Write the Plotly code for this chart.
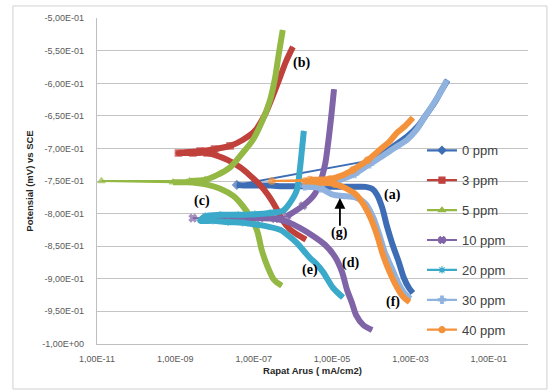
import math
import plotly.graph_objects as go

# Potentiodynamic polarization curves: current density (mA/cm2) and potential (V vs SCE)
# Each series runs from the cathodic end, through the corrosion potential, to the anodic end.

i_0ppm = [1.15e-3, 9.1e-4, 6.8e-4, 5.0e-4, 3.5e-4, 2.5e-4, 1.9e-4, 1.4e-4, 1.05e-4, 7.2e-5,
          3.6e-5, 1.8e-5, 8.9e-6, 4.4e-6, 2.2e-6, 1.1e-6, 5.4e-7, 2.7e-7, 1.3e-7, 7.1e-8, 3.7e-8,
          1.05e-4, 2.2e-4, 4.5e-4, 8.5e-4, 1.55e-3, 2.6e-3, 4.2e-3, 6.3e-3, 8.9e-3]
e_0ppm = [-0.922, -0.914, -0.899, -0.874, -0.848, -0.819, -0.791, -0.771, -0.762, -0.759,
          -0.759, -0.759, -0.759, -0.759, -0.758, -0.758, -0.758, -0.757, -0.757, -0.757, -0.756,
          -0.718, -0.706, -0.693, -0.681, -0.666, -0.647, -0.629, -0.610, -0.595]

i_3ppm = [2.15e-6, 1.35e-6, 8.3e-7, 5.5e-7, 3.7e-7, 2.3e-7, 1.45e-7, 7.9e-8, 4.5e-8, 2.2e-8,
          1.0e-8, 6.5e-9, 2.8e-9, 1.2e-9,
          4.3e-9, 1.0e-8, 2.5e-8, 5.2e-8, 1.07e-7, 1.9e-7, 2.9e-7, 4.4e-7, 6.6e-7, 1.0e-6]
e_3ppm = [-0.840, -0.833, -0.824, -0.811, -0.791, -0.771, -0.756, -0.741, -0.729, -0.718,
          -0.710, -0.707, -0.707, -0.707,
          -0.704, -0.701, -0.696, -0.687, -0.673, -0.649, -0.623, -0.595, -0.567, -0.544]

i_5ppm = [5.2e-7, 3.3e-7, 2.2e-7, 1.6e-7, 1.2e-7, 7.9e-8, 5.2e-8, 3.0e-8, 1.4e-8, 6.8e-9,
          3.5e-9, 2.0e-9, 8.7e-10, 1.3e-11,
          2.3e-9, 5.8e-9, 1.15e-8, 2.5e-8, 5.2e-8, 9.5e-8, 1.7e-7, 2.6e-7, 3.5e-7, 4.3e-7, 5.5e-7]
e_5ppm = [-0.911, -0.902, -0.880, -0.856, -0.825, -0.804, -0.788, -0.773, -0.762, -0.756,
          -0.753, -0.752, -0.752, -0.750,
          -0.750, -0.748, -0.741, -0.729, -0.707, -0.687, -0.656, -0.626, -0.592, -0.557, -0.518]

i_10ppm = [1.05e-4, 6.2e-5, 4.1e-5, 3.2e-5, 2.4e-5, 1.8e-5, 1.2e-5, 6.6e-6, 3.2e-6, 1.5e-6,
           7.4e-7, 3.5e-7, 1.45e-7, 4.5e-8, 1.4e-8, 2.8e-9,
           7.1e-7, 1.8e-6, 3.5e-6, 4.9e-6, 6.6e-6, 7.8e-6, 9.3e-6, 1.05e-5, 1.12e-5]
e_10ppm = [-0.979, -0.971, -0.956, -0.937, -0.917, -0.890, -0.867, -0.848, -0.834, -0.822,
           -0.813, -0.808, -0.807, -0.807, -0.807, -0.807,
           -0.804, -0.788, -0.771, -0.753, -0.725, -0.695, -0.656, -0.626, -0.609]

i_20ppm = [1.9e-5, 1.05e-5, 5.9e-6, 3.9e-6, 2.7e-6, 1.26e-6, 7.4e-7, 4.7e-7, 2.3e-7, 1.2e-7,
           5.2e-8, 2.2e-8, 9.1e-9, 4.3e-9,
           5.8e-9, 1.4e-8, 4.0e-8, 1.07e-7, 2.6e-7, 5.5e-7, 8.3e-7, 1.26e-6, 1.5e-6, 1.7e-6, 1.9e-6]
e_20ppm = [-0.929, -0.914, -0.890, -0.877, -0.868, -0.845, -0.833, -0.825, -0.820, -0.817,
           -0.814, -0.813, -0.811, -0.811,
           -0.804, -0.802, -0.802, -0.801, -0.799, -0.796, -0.784, -0.764, -0.733, -0.702, -0.673]

i_30ppm = [1.0e-3, 7.2e-4, 5.0e-4, 3.4e-4, 2.2e-4, 1.55e-4, 1.1e-4, 7.2e-5, 3.8e-5, 1.9e-5,
           1.05e-5, 4.9e-6, 2.0e-6,
           4.9e-6, 1.6e-5, 3.8e-5, 9.1e-5, 1.9e-4, 4.0e-4, 8.1e-4, 1.4e-3, 2.3e-3, 3.7e-3,
           6.0e-3, 8.5e-3]
e_30ppm = [-0.931, -0.923, -0.908, -0.885, -0.859, -0.830, -0.805, -0.785, -0.775, -0.773,
           -0.771, -0.761, -0.758,
           -0.755, -0.748, -0.739, -0.724, -0.712, -0.699, -0.687, -0.672, -0.652, -0.633,
           -0.613, -0.595]

i_40ppm = [9.5e-4, 6.5e-4, 4.5e-4, 2.95e-4, 2.0e-4, 1.4e-4, 9.8e-5, 6.5e-5, 4.1e-5, 2.2e-5,
           1.2e-5, 4.9e-6, 2.0e-6, 2.9e-7,
           2.7e-6, 8.7e-6, 1.9e-5, 3.4e-5, 8.1e-5, 1.65e-4, 2.95e-4, 4.5e-4, 7.2e-4, 1.15e-3]
e_40ppm = [-0.936, -0.928, -0.913, -0.890, -0.864, -0.833, -0.808, -0.787, -0.771, -0.761,
           -0.755, -0.752, -0.750, -0.750,
           -0.748, -0.747, -0.741, -0.733, -0.718, -0.702, -0.689, -0.676, -0.666, -0.653]

series_names = ["0 ppm", "3 ppm", "5 ppm", "10 ppm", "20 ppm", "30 ppm", "40 ppm"]
series_current = [i_0ppm, i_3ppm, i_5ppm, i_10ppm, i_20ppm, i_30ppm, i_40ppm]
series_potential = [e_0ppm, e_3ppm, e_5ppm, e_10ppm, e_20ppm, e_30ppm, e_40ppm]

x_tick_vals = [1e-11, 1e-9, 1e-7, 1e-5, 1e-3, 1e-1]
x_tick_text = ["1,00E-11", "1,00E-09", "1,00E-07", "1,00E-05", "1,00E-03", "1,00E-01"]
y_tick_vals = [-1.0, -0.95, -0.9, -0.85, -0.8, -0.75, -0.7, -0.65, -0.6, -0.55, -0.5]
y_tick_text = ["-1,00E+00", "-9,50E-01", "-9,00E-01", "-8,50E-01", "-8,00E-01", "-7,50E-01",
               "-7,00E-01", "-6,50E-01", "-6,00E-01", "-5,50E-01", "-5,00E-01"]

colors = ["#3D6DB5", "#C0403C", "#93B844", "#8064A8", "#3BA9C9", "#8FB2DE", "#F3923A"]
symbols = ["diamond", "square", "triangle-up", "x", "asterisk-open", "cross", "circle"]


def gaps(cur):
    """Spacing (in decades) between consecutive readings."""
    return [abs(math.log10(cur[k]) - math.log10(cur[k - 1])) for k in range(1, len(cur))]


def dense_runs(cur, pot, max_gap=0.6):
    """Split a series into runs of closely spaced points (gap in decades <= max_gap)."""
    xs, ys = [], []
    run_x, run_y = [cur[0]], [pot[0]]
    for k, g in enumerate(gaps(cur), start=1):
        if g > max_gap:
            if len(run_x) > 1:
                xs += run_x + [None]
                ys += run_y + [None]
            run_x, run_y = [], []
        run_x.append(cur[k])
        run_y.append(pot[k])
    if len(run_x) > 1:
        xs += run_x
        ys += run_y
    return xs, ys


def marker_sizes(cur, sparse_gap=0.35, size=6.5):
    """Markers stay visible only where readings are sparse."""
    g = gaps(cur)
    out = []
    for k in range(len(cur)):
        left = g[k - 1] if k > 0 else 0.0
        right = g[k] if k < len(g) else 0.0
        out.append(size if max(left, right) > sparse_gap else 0)
    return out


fig = go.Figure()
for name, cur, pot, col, sym in zip(series_names, series_current, series_potential, colors, symbols):
    # full scan as a thin line, markers where the readings are sparse
    fig.add_trace(go.Scatter(
        x=cur, y=pot, name=name, legendgroup=name, showlegend=False, mode="lines+markers",
        line=dict(color=col, width=1.8),
        marker=dict(symbol=sym, size=marker_sizes(cur), color=col,
                    line=dict(color=col, width=1.2)),
    ))
    # densely measured branches drawn as a heavy band
    tx, ty = dense_runs(cur, pot)
    fig.add_trace(go.Scatter(
        x=tx, y=ty, legendgroup=name, showlegend=False, mode="lines",
        line=dict(color=col, width=6, shape="spline", smoothing=0.8),
        connectgaps=False, hoverinfo="skip",
    ))

# legend keys (line with the series marker)
for name, col, sym in zip(series_names, colors, symbols):
    fig.add_trace(go.Scatter(
        x=[None], y=[None], name=name, legendgroup=name, mode="lines+markers",
        line=dict(color=col, width=2.2),
        marker=dict(symbol=sym, size=6, color=col, line=dict(color=col, width=1.2)),
    ))

label_font = dict(family="Liberation Serif", size=14, color="black")
curve_labels = [("(a)", -3.45, -0.771), ("(b)", -5.77, -0.569), ("(c)", -8.32, -0.781),
                ("(d)", -4.52, -0.876), ("(e)", -5.57, -0.887), ("(f)", -3.45, -0.936),
                ("(g)", -4.80, -0.830)]
annotations = [dict(x=lx, y=ly, xref="x", yref="y", text="<b>%s</b>" % t, showarrow=False,
                    font=label_font) for t, lx, ly in curve_labels]
annotations.append(dict(x=-4.80, y=-0.776, ax=-4.80, ay=-0.821, xref="x", yref="y",
                        axref="x", ayref="y", text="", showarrow=True, arrowhead=2,
                        arrowsize=1.2, arrowwidth=1.8, arrowcolor="black"))

tick_font = dict(family="Liberation Sans", size=9, color="#595959")
title_font = dict(family="Liberation Sans", size=9.5, color="#262626")

fig.update_layout(
    width=560, height=392,
    margin=dict(l=97, r=32, t=18, b=48),
    paper_bgcolor="white", plot_bgcolor="white",
    showlegend=True,
    legend=dict(x=0.754, y=0.64, xanchor="left", yanchor="top",
                bgcolor="rgba(0,0,0,0)", borderwidth=0,
                font=dict(family="Liberation Sans", size=13, color="#404040")),
    annotations=annotations,
    shapes=[dict(type="rect", xref="paper", yref="paper", x0=-0.195, x1=1.044,
                 y0=-0.138, y1=1.037, line=dict(color="#D0D0D0", width=1),
                 fillcolor="rgba(0,0,0,0)", layer="below")],
    xaxis=dict(type="log", range=[-11, 0], tickvals=x_tick_vals, ticktext=x_tick_text,
               showgrid=False, zeroline=False, showline=True, linecolor="#BFBFBF",
               linewidth=1.3, ticks="", tickfont=tick_font, ticklabelstandoff=6,
               title=dict(text="<b>Rapat Arus ( mA/cm2)</b>", font=title_font, standoff=4)),
    yaxis=dict(range=[-1.0004, -0.4996], tickvals=y_tick_vals, ticktext=y_tick_text,
               showgrid=True, gridcolor="#C4C4C4", gridwidth=1.3, zeroline=False,
               showline=True, linecolor="#BFBFBF", linewidth=1.3, ticks="",
               tickfont=tick_font, ticklabelstandoff=10,
               title=dict(text="<b>Potensial (mV) vs SCE</b>", font=title_font, standoff=6)),
)

fig.write_html("out.html")
